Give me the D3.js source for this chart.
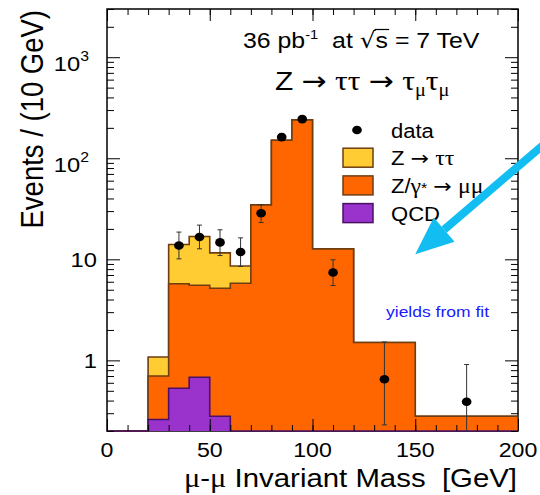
<!DOCTYPE html>
<html>
<head>
<meta charset="utf-8">
<script src="https://cdn.jsdelivr.net/npm/d3@7"></script>
<style>
  body { margin: 0; background: #fff; }
  svg { font-family: "Liberation Sans", Arial, Helvetica, sans-serif; }
  .sym { font-family: "Liberation Serif", "Times New Roman", serif; }
  .arr { font-family: "DejaVu Sans", sans-serif; }
</style>
</head>
<body>
<svg width="540" height="495"></svg>
<script>
// bin edges in GeV (variable width, yields shown per 10 GeV)
const edges = [0, 10, 20, 30, 40, 50, 60, 70, 80, 90, 100, 120, 150, 200];

// stacked components, per bin
const qcd     = [0, 0, 0.26, 0.53, 0.68, 0.28, 0, 0, 0, 0, 0, 0, 0];
const zmumu   = [0, 0, 0.44, 5.2, 4.85, 4.9, 5.8, 34.6, 151, 240, 12.7, 1.5, 0.28];
const ztautau = [0, 0, 0.38, 8.3, 11.3, 6.4, 2.8, 0, 0, 0, 0, 0, 0];

// data points with error bar ends
const dataX  = [35, 45, 55, 65, 75, 85, 95, 110, 135, 175];
const dataY  = [13.7, 16.6, 14.7, 11.8, 28.6, 162, 244, 7.4, 0.65, 0.39];
const errLo  = [10.1, 12.7, 10.9, 8.5, 23.1, 150, 229, 5.5, 0.23, 0.05];
const errHi  = [18.6, 21.8, 19.6, 16.3, 34.8, 175, 260, 9.9, 1.52, 0.91];

const xTicks = [0, 50, 100, 150, 200];
const yTicks = [1, 10, 100, 1000];
const yLabels = [["1", ""], ["10", ""], ["10", "2"], ["10", "3"]];

const colors = { ztt: "#ffcc33", zmm: "#ff6600", qcd: "#9933cc", line: "#6e3d12", qcdLine: "#4a1066" };

const svg = d3.select("svg");
const pLeft = 107, pRight = 518, pTop = 9, pBottom = 431;
const stretch = 1.13; // the original picture is a bit wider than tall

const x = d3.scaleLinear().domain([0, 200]).range([pLeft, pRight]);
const y = d3.scaleLog().domain([0.2, 3000]).range([pBottom, pTop]);
const yv = v => v > 0.2 ? y(v) : pBottom;

// text placed at (tx,ty), glyphs widened like the original
function label(tx, ty, size, anchor, rot) {
  return svg.append("g")
      .attr("transform", `translate(${tx},${ty}) scale(${stretch},1)` + (rot ? ` rotate(${rot})` : ""))
    .append("text")
      .attr("font-size", size)
      .attr("text-anchor", anchor || "start")
      .attr("xml:space", "preserve");
}

// rich text helper: parts = [text, class, dy, size]
function rich(sel, parts) {
  parts.forEach(([txt, cls, dy, size]) => {
    const s = sel.append("tspan").text(txt);
    if (cls) s.attr("class", cls);
    if (dy) s.attr("dy", dy);
    if (size) s.attr("font-size", size);
  });
  return sel;
}

// frame
svg.append("rect")
    .attr("x", pLeft).attr("y", pTop)
    .attr("width", pRight - pLeft).attr("height", pBottom - pTop)
    .attr("fill", "none").attr("stroke", "#000").attr("stroke-width", 1.5);

svg.append("clipPath").attr("id", "plot")
  .append("rect")
    .attr("x", pLeft).attr("y", pTop)
    .attr("width", pRight - pLeft).attr("height", pBottom - pTop + 1);

const plot = svg.append("g").attr("clip-path", "url(#plot)");

// cumulative stack
const cumQ = qcd;
const cumM = qcd.map((q, i) => q + zmumu[i]);
const cumT = cumM.map((m, i) => m + ztautau[i]);

function stepPath(values) {
  let p = `M${x(edges[0])},${pBottom}`;
  values.forEach((v, i) => {
    p += `L${x(edges[i])},${yv(v)}L${x(edges[i + 1])},${yv(v)}`;
  });
  return p + `L${x(edges[edges.length - 1])},${pBottom}`;
}

[[cumT, colors.ztt, colors.line], [cumM, colors.zmm, colors.line], [cumQ, colors.qcd, colors.qcdLine]]
  .forEach(([vals, fill, stroke]) => {
    plot.append("path")
        .attr("d", stepPath(vals))
        .attr("fill", fill)
        .attr("stroke", stroke)
        .attr("stroke-width", 1.6);
  });

// error bars + markers
const pts = plot.selectAll(".pt")
  .data(dataX.map((d, i) => ({ x: d, y: dataY[i], lo: errLo[i], hi: errHi[i] })))
  .enter().append("g").attr("class", "pt");

pts.append("line")
    .attr("x1", d => x(d.x)).attr("x2", d => x(d.x))
    .attr("y1", d => yv(d.lo)).attr("y2", d => y(d.hi))
    .attr("stroke", "#333").attr("stroke-width", 1);
pts.append("line")
    .attr("x1", d => x(d.x) - 2.5).attr("x2", d => x(d.x) + 2.5)
    .attr("y1", d => y(d.hi)).attr("y2", d => y(d.hi))
    .attr("stroke", "#333").attr("stroke-width", 1);
pts.filter(d => d.lo > 0.2).append("line")
    .attr("x1", d => x(d.x) - 2.5).attr("x2", d => x(d.x) + 2.5)
    .attr("y1", d => y(d.lo)).attr("y2", d => y(d.lo))
    .attr("stroke", "#333").attr("stroke-width", 1);
pts.append("ellipse")
    .attr("cx", d => x(d.x)).attr("cy", d => y(d.y))
    .attr("rx", 4.3 * stretch).attr("ry", 4.3).attr("fill", "#000");

// ticks (inside, all four sides)
const xMinor = d3.range(0, 201, 10);
const yMinor = [];
[0.1, 1, 10, 100, 1000].forEach(dec => {
  for (let k = 2; k <= 9; k++) {
    const v = dec * k;
    if (v >= 0.2 && v <= 3000) yMinor.push(v);
  }
});

function ticks(axis, vals, size, tx, ty) {
  svg.append("g")
      .attr("transform", `translate(${tx},${ty})`)
      .call(axis.tickValues(vals).tickSize(size).tickFormat(""))
      .call(g => g.select(".domain").remove())
      .selectAll("line").attr("stroke", "#000").attr("stroke-width", 1);
}
ticks(d3.axisBottom(x), xTicks, -12, 0, pBottom);
ticks(d3.axisBottom(x), xMinor, -6, 0, pBottom);
ticks(d3.axisTop(x), xTicks, -12, 0, pTop);
ticks(d3.axisTop(x), xMinor, -6, 0, pTop);
ticks(d3.axisLeft(y), yTicks, -13, pLeft, 0);
ticks(d3.axisLeft(y), yMinor, -7, pLeft, 0);
ticks(d3.axisRight(y), yTicks, -13, pRight, 0);
ticks(d3.axisRight(y), yMinor, -7, pRight, 0);

// tick labels
xTicks.forEach(v => label(x(v), 457, 20.5, "middle").text(v));

yTicks.forEach((v, i) => {
  const [b, e] = yLabels[i];
  const t = label(e ? 89 : 97, y(v) + (e ? 14 : 8), 21, "end");
  t.append("tspan").text(b);
  if (e) t.append("tspan").attr("dy", -10).attr("font-size", 14).text(e);
});

// axis titles
label(43, 10, 27.5, "end", -90).text("Events / (10 GeV)");

rich(label(517, 487, 26, "end"),
  [["\u03bc", "sym", null, 27], ["-"], ["\u03bc", "sym", null, 27], [" Invariant Mass  [GeV]"]]);

// header
const h1 = rich(label(243, 48, 22),
  [["36 pb"], ["-1", null, -9, 13], ["  at ", null, 9], ["\u221a", "arr"], ["s"], [" = 7 TeV"]]);
const sBox = h1.selectAll("tspan").nodes()[4].getBBox();
d3.select(h1.node().parentNode).append("line")
    .attr("x1", sBox.x - 1).attr("x2", sBox.x + sBox.width + 1)
    .attr("y1", -18.5).attr("y2", -18.5)
    .attr("stroke", "#000").attr("stroke-width", 1.2);

rich(label(275, 90, 26.5),
  [["Z "], ["\u2192", "arr"], [" "], ["\u03c4\u03c4", "sym", null, 28], [" "], ["\u2192", "arr"], [" "],
   ["\u03c4", "sym", null, 28], ["\u03bc", "sym", 6, 18], ["\u03c4", "sym", -6, 28], ["\u03bc", "sym", 6, 18]]);

// legend
const legY0 = 130, legDy = 27.7, legX = 343;
svg.append("ellipse").attr("cx", 357).attr("cy", legY0)
    .attr("rx", 4.3 * stretch).attr("ry", 4.3).attr("fill", "#000");
const legItems = [
  [[["Z "], ["\u2192", "arr"], [" "], ["\u03c4\u03c4", "sym", null, 21]], colors.ztt, colors.line],
  [[["Z/"], ["\u03b3", "sym", null, 21], ["*", null, null, 14], [" "], ["\u2192", "arr"], [" "], ["\u03bc\u03bc", "sym", null, 21]], colors.zmm, colors.line],
  [[["QCD"]], colors.qcd, colors.qcdLine]
];
label(391, legY0 + 7.5, 19.5).text("data");
legItems.forEach(([parts, fill, stroke], i) => {
  const cy = legY0 + legDy * (i + 1);
  svg.append("rect")
      .attr("x", legX).attr("y", cy - 9.5).attr("width", 30).attr("height", 19)
      .attr("fill", fill).attr("stroke", stroke).attr("stroke-width", 1.5);
  rich(label(391, cy + 7.5, 19.5), parts);
});

label(386, 317, 15.5).attr("fill", "#1a1aff").text("yields from fit");

// blue arrow pointing into the plot
const tip = [x(150), y(11.2)];
const tail = [x(222), y(200)];
const ang = Math.atan2(tip[1] - tail[1], tip[0] - tail[0]);
const headLen = 38, headW = 16;
const hb = [tip[0] - headLen * Math.cos(ang), tip[1] - headLen * Math.sin(ang)];
svg.append("line")
    .attr("x1", tail[0]).attr("y1", tail[1])
    .attr("x2", hb[0]).attr("y2", hb[1])
    .attr("stroke", "#12bdf2").attr("stroke-width", 8);
svg.append("path")
    .attr("d", `M${tip[0]},${tip[1]}` +
      `L${hb[0] + headW * Math.sin(ang)},${hb[1] - headW * Math.cos(ang)}` +
      `L${hb[0] - headW * Math.sin(ang)},${hb[1] + headW * Math.cos(ang)}Z`)
    .attr("fill", "#12bdf2");
</script>
</body>
</html>
